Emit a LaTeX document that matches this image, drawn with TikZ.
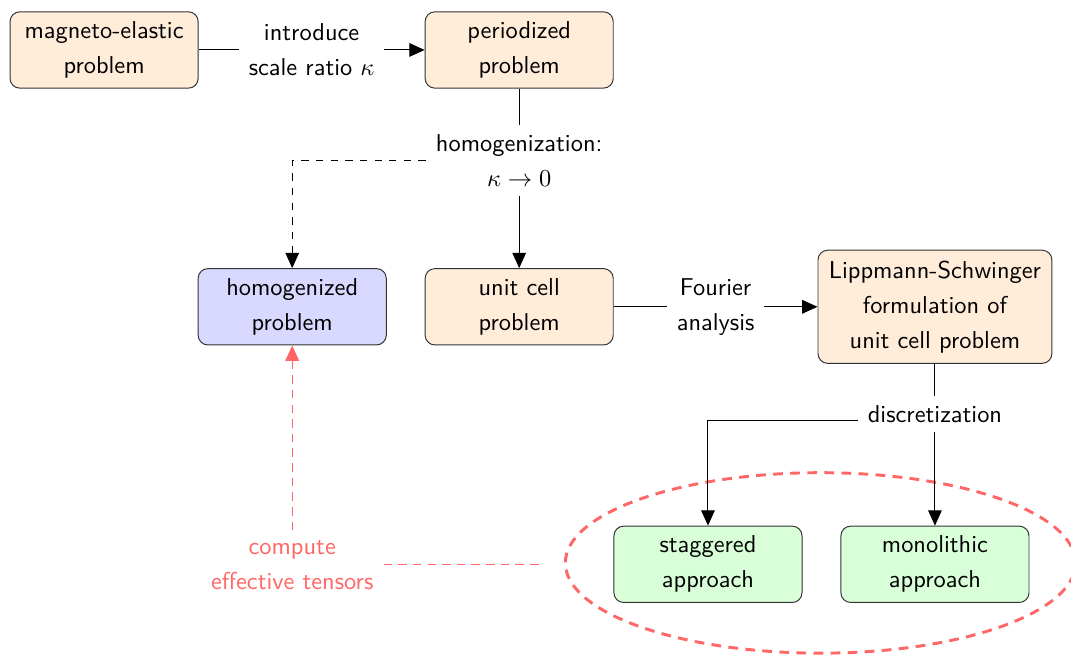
\documentclass[tikz,border=0pt]{standalone}
\usepackage{amsmath}
\usepackage{tikz}
\usetikzlibrary{arrows.meta, positioning, shapes.geometric}

\begin{document}
\begin{tikzpicture}[
    box/.style={rectangle, rounded corners=4pt, draw=black!80, fill=orange!15, minimum width=2.71cm, minimum height=1.1cm, inner sep=3pt, align=center, font=\sffamily\fontsize{10}{14.3}\selectfont},
    lbl/.style={fill=white, inner sep=4pt, align=center, font=\sffamily\fontsize{10}{14.3}\selectfont},
    arrow/.style={-{Triangle[length=6.3pt, width=5.6pt]}},
    note/.style={red!60, line width=0.5pt, dash pattern=on 3.5pt off 2.5pt}
]
        \useasboundingbox (0,0) rectangle (15.43,-9.44);

        % group of the two approaches
        \node[ellipse, draw=red!60, very thick, dash pattern=on 4pt off 3pt, minimum width=7.35cm, minimum height=2.6cm] (grp) at (11.82,-8.11) {};

        \node[box] (mag) at (1.50,-0.72) {magneto-elastic\\problem};
        \node[box] (per) at (7.48,-0.72) {periodized\\problem};
        \node[box, fill=blue!15] (hom) at (4.21,-4.42) {homogenized\\problem};
        \node[box] (unit) at (7.48,-4.42) {unit cell\\problem};
        \node[box, minimum width=3.37cm, minimum height=1.63cm] (ls) at (13.47,-4.42) {Lippmann-Schwinger\\formulation of\\unit cell problem};
        \node[box, fill=green!15] (stag) at (10.20,-8.13) {staggered\\approach};
        \node[box, fill=green!15] (mono) at (13.47,-8.13) {monolithic\\approach};

        \draw[arrow] (mag) -- node[lbl] {introduce\\scale ratio $\kappa$} (per);
        \draw[arrow] (per) -- node[lbl, pos=0.4] (homlab) {homogenization:\\$\kappa \to 0$} (unit);
        \draw[dashed, arrow] (homlab.west) -| (hom.north);
        \draw[arrow] (unit) -- node[lbl] {Fourier\\analysis} (ls);
        \draw[arrow] (ls) -- node[lbl, pos=0.31] (disc) {discretization} (mono);
        \draw[arrow] ([yshift=-2.5pt]disc.west) -| (stag.north);

        % effective tensors
        \node[lbl, fill=none, text=red!60] (eff) at (4.21,-8.14) {compute\\effective tensors};
        \draw[note, arrow] (eff) -- (hom);
        \draw[note, shorten >=0.36cm] ([yshift=0.3pt]eff.east) -- ([yshift=0.3pt]eff.east -| grp.west);
    \end{tikzpicture}
\end{document}
